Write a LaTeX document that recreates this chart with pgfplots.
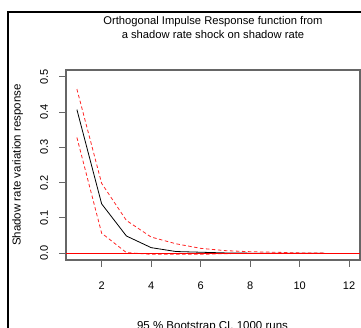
\documentclass[border=0pt]{standalone}
\usepackage{pgfplots}
\pgfplotsset{compat=1.18}
\usepackage{fontspec}
\setmainfont{Liberation Sans}
\begin{document}
\begin{tikzpicture}
\useasboundingbox (0pt,0pt) rectangle (361pt,328pt);
\clip (0pt,0pt) rectangle (361pt,328pt);
\draw[line width=2pt] (8.3pt,315.5pt) rectangle (420pt,-40pt);
\begin{axis}[at={(66pt,68pt)}, anchor=south west, scale only axis,
  width=294pt, height=190pt,
  xmin=0.56, xmax=12.44, ymin=-0.019, ymax=0.519,
  xtick={2,4,6,8,10,12},
  ytick={0,0.1,0.2,0.3,0.4,0.5},
  yticklabels={0.0,0.1,0.2,0.3,0.4,0.5},
  tick pos=left, tick align=outside, major tick length=7pt,
  every tick/.style={black!60, line width=1pt},
  axis line style={black!60, line width=1.2pt},
  ticklabel style={font=\fontsize{11}{13}\selectfont},
  xticklabel style={anchor=north, inner sep=0pt, yshift=-14.5pt},
  yticklabel style={xshift=-11pt, rotate=90, anchor=base, inner sep=0pt},
  /pgf/number format/assume math mode=true,
]
\addplot[black, line width=0.8pt] coordinates {
(1,0.407) (2,0.140) (3,0.049) (4,0.016) (5,0.005) (6,0.003) (7,0.001) (8,0.0003) (9,0.0001) (10,0) (11,0)};
\addplot[red!85!white, line width=0.8pt, dash pattern=on 3.5pt off 2.5pt] coordinates {
(1,0.465) (2,0.198) (3,0.093) (4,0.046) (5,0.027) (6,0.014) (7,0.0075) (8,0.0045) (9,0.003) (10,0.001) (11,0.0005)};
\addplot[red!85!white, line width=0.8pt, dash pattern=on 3.5pt off 2.5pt] coordinates {
(1,0.328) (2,0.057) (3,0.002) (4,-0.003) (5,-0.003) (6,-0.003) (7,-0.001) (8,-0.0005) (9,0) (10,0) (11,0)};
\addplot[red, line width=1pt] coordinates {(0.56,0) (12.44,0)};
\end{axis}
\node[anchor=base, font=\fontsize{11.2}{13}\selectfont, inner sep=0pt] at (213pt,303.5pt) {Orthogonal Impulse Response function from};
\node[anchor=base, font=\fontsize{11.2}{13}\selectfont, inner sep=0pt] at (213pt,289.7pt) {a shadow rate shock on shadow rate};
\node[rotate=90, font=\fontsize{11.5}{13}\selectfont, inner sep=0pt] at (17.7pt,163pt) {Shadow rate variation response};
\node[anchor=base, font=\fontsize{11.5}{13}\selectfont, inner sep=0pt] at (212.5pt,-1.9pt) {95 \% Bootstrap CI, 1000 runs};
\end{tikzpicture}
\end{document}
